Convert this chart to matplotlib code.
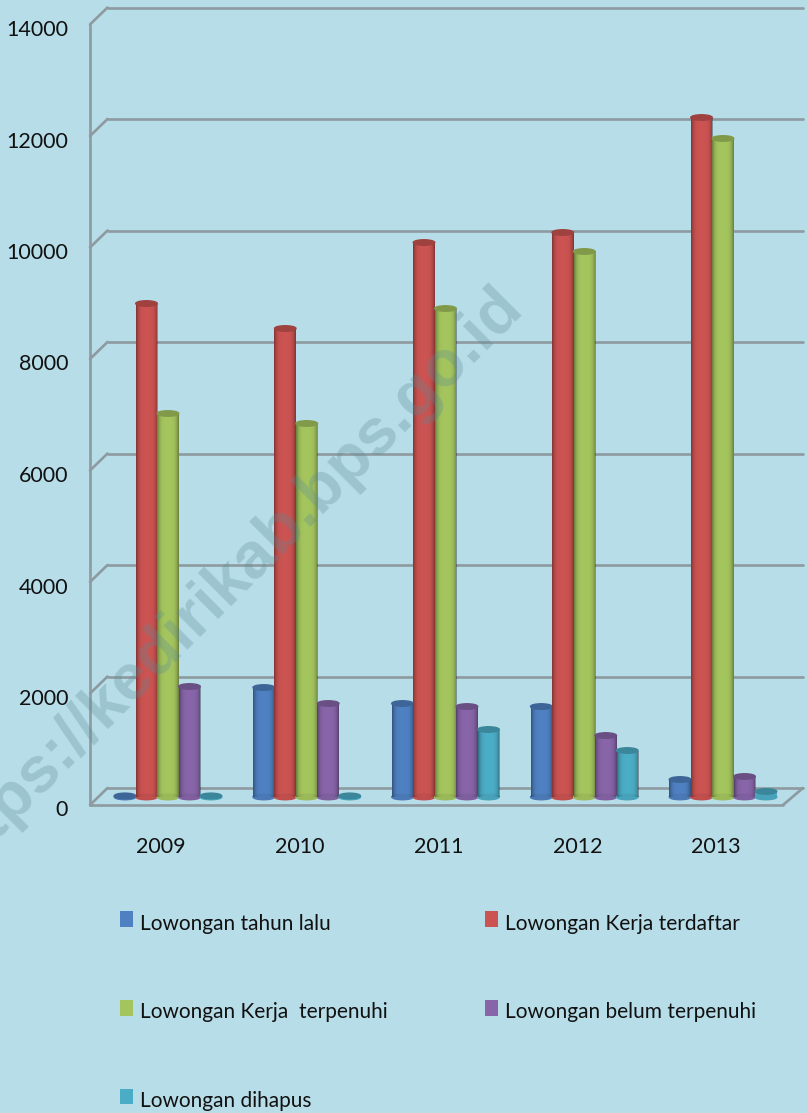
import numpy as np
import matplotlib
matplotlib.use("Agg")
import matplotlib.pyplot as plt
from matplotlib.patches import Ellipse, Patch
from matplotlib.transforms import Affine2D, blended_transform_factory, IdentityTransform

years = ["2009", "2010", "2011", "2012", "2013"]
tahun_lalu = [20, 1964, 1677, 1623, 314]
terdaftar = [8852, 8404, 9946, 10126, 12188]
terpenuhi = [6879, 6700, 8762, 9785, 11812]
belum_terpenuhi = [1982, 1677, 1623, 1103, 368]
dihapus = [20, 20, 1211, 834, 99]
series_names = ["Lowongan tahun lalu", "Lowongan Kerja terdaftar", "Lowongan Kerja  terpenuhi",
                "Lowongan belum terpenuhi", "Lowongan dihapus"]
series_colors = ["#4f81c2", "#cb5351", "#a4c55e", "#8765a8", "#4bacc6"]
y_ticks = [0, 2000, 4000, 6000, 8000, 10000, 12000, 14000]

W, H = 807, 1113
BG = "#b7dde8"
plt.rcParams["font.family"] = ["Lato", "DejaVu Sans"]
fig = plt.figure(figsize=(W / 100, H / 100), dpi=100, facecolor=BG)

L, R, TOP, BOT = 98.6, 792.4, 16.5, 797.0
ax = fig.add_axes([L / W, 1 - BOT / H, (R - L) / W, (BOT - TOP) / H])
ax.set_facecolor("none")
ax.set_xlim(-0.5, 4.5)
ax.set_ylim(0, 14000)
for s in ax.spines.values():
    s.set_visible(False)

PX_Y = 14000 / (BOT - TOP)
PX_X = 5 / (R - L)

# pseudo-3D walls
wall = "#8d9a9f"
wall_kw = dict(color=wall, lw=1.9, solid_capstyle="round", solid_joinstyle="round", zorder=1)
blend = blended_transform_factory(IdentityTransform(), ax.transData)
back = blend + Affine2D().translate(0, 9)
front = blend + Affine2D().translate(0, -8)
XF, XB, XE, XEB = 90, 107.5, 783, 803
for v in y_ticks:
    ax.plot([XB, XEB], [v, v], transform=back, clip_on=False, **wall_kw)
    y_back = back.transform((0, v))[1]
    y_front = front.transform((0, v))[1]
    ax.plot([XF, XB], [y_front, y_back], transform=IdentityTransform(), clip_on=False, **wall_kw)
ax.plot([XF, XF], [0, 14000], transform=front, clip_on=False, **wall_kw)
ax.plot([XF, XE], [0, 0], transform=front, clip_on=False, **wall_kw)
ye0 = front.transform((0, 0))[1]
yb0 = back.transform((0, 0))[1]
ax.plot([XE, XEB], [ye0, yb0], transform=IdentityTransform(), clip_on=False, **wall_kw)

# cylinders
all_series = [tahun_lalu, terdaftar, terpenuhi, belum_terpenuhi, dihapus]
BW = 21.5 * PX_X
x0 = np.arange(len(years))
u = np.linspace(-1, 1, 64)
shade = np.zeros((1, 64, 4))
shade[0, :, 3] = 0.38 * np.abs(u) ** 4
EH = 5.5 * PX_Y


def darker(c, f):
    return tuple(np.array(matplotlib.colors.to_rgb(c)) * f)


handles = []
for k, (vals, col) in enumerate(zip(all_series, series_colors)):
    offs = (k - 2) * BW
    for i, v in enumerate(vals):
        x = x0[i] + offs
        z = 3 + i * 10 + k
        bars = ax.bar(x, v, BW, color=col, zorder=z, clip_on=False)
        ax.add_patch(Ellipse((x, 0), BW, EH, color=darker(col, 0.94), zorder=z, clip_on=False))
        if v > 100:
            im = ax.imshow(shade, extent=(x - BW / 2, x + BW / 2, 0, v), aspect="auto", zorder=z + 0.1,
                           interpolation="bilinear")
            im.set_clip_path(bars[0])
        ax.add_patch(Ellipse((x, v), BW, EH, color=darker(col, 0.78), zorder=z + 0.2, clip_on=False))
    handles.append(Patch(facecolor=col, edgecolor="none"))
ax.set_xlim(-0.5, 4.5)
ax.set_ylim(0, 14000)

# ticks
ax.set_yticks(y_ticks)
ax.set_yticklabels([str(v) for v in y_ticks], fontsize=15.5, color="#111111")
ax.tick_params(axis="y", length=0, pad=22)
for lbl in ax.get_yticklabels():
    lbl.set_transform(lbl.get_transform() + Affine2D().translate(0, -11.5))
ax.set_xticks(x0)
ax.set_xticklabels(years, fontsize=15.5, color="#111111")
ax.tick_params(axis="x", length=0, pad=29)
for lbl in ax.get_xticklabels():
    lbl.set_transform(lbl.get_transform() + Affine2D().translate(-7, 0))

# legend (column-first order)
order = [0, 2, 4, 1, 3]
leg = fig.legend([handles[i] for i in order], [series_names[i] for i in order], ncol=2,
                 loc="upper left", bbox_to_anchor=(120 / W, 1 - 913.5 / H), frameon=False,
                 fontsize=15, labelcolor="#111111", handlelength=0.62, handleheight=0.77,
                 handletextpad=0.33, columnspacing=4.7, labelspacing=3.3,
                 borderpad=0, borderaxespad=0)
for h in leg.legend_handles:
    h.set_y(h.get_y() + 2.2)

# watermark
fig.text(226 / W, 1 - 583 / H, "https://kedirikab.bps.go.id", rotation=45, ha="center", va="center",
         rotation_mode="anchor", fontsize=47, fontweight="bold", family="Liberation Sans",
         color="#5d8a96", alpha=0.3, zorder=50)

fig.savefig("out.png", dpi=100, facecolor=BG)
